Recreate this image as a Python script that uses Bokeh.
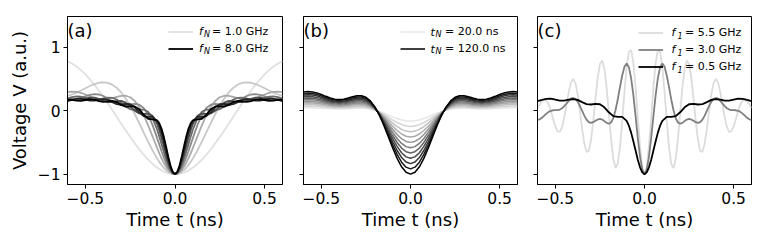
from bokeh.plotting import figure
from bokeh.layouts import row
from bokeh.models import Range1d, FixedTicker, Legend, LegendItem, Label, CustomLabelingPolicy
from bokeh.embed import file_html
from bokeh.resources import INLINE

# ---------------- data (half curves, t >= 0; the reference is symmetric in t) -------------
# panel (a): f_N = 1 ... 8 GHz
t_a = [0, 0.0125, 0.025, 0.0375, 0.05, 0.0625, 0.075, 0.0875, 0.1, 0.125, 0.15, 0.175, 0.2,
       0.225, 0.25, 0.275, 0.3, 0.325, 0.35, 0.375, 0.4, 0.425, 0.45, 0.475, 0.5, 0.525, 0.55,
       0.575, 0.6]
fN_labels = [1.0, 2.0, 3.0, 4.0, 5.0, 6.0, 7.0, 8.0]
v_fN1 = [-1, -0.998, -0.993, -0.985, -0.973, -0.959, -0.941, -0.919, -0.896, -0.839, -0.771, -0.693, -0.607, -0.513, -0.414, -0.310, -0.203, -0.095, 0.013, 0.120, 0.223, 0.321, 0.413, 0.498, 0.575, 0.642, 0.699, 0.746, 0.782]
v_fN2 = [-1, -0.996, -0.983, -0.963, -0.934, -0.899, -0.856, -0.806, -0.751, -0.626, -0.487, -0.340, -0.192, -0.050, 0.081, 0.195, 0.290, 0.362, 0.413, 0.441, 0.450, 0.443, 0.422, 0.392, 0.357, 0.321, 0.287, 0.258, 0.236]
v_fN3 = [-1, -0.992, -0.970, -0.934, -0.884, -0.823, -0.751, -0.672, -0.586, -0.406, -0.228, -0.067, 0.063, 0.157, 0.214, 0.238, 0.237, 0.221, 0.201, 0.184, 0.178, 0.184, 0.202, 0.229, 0.258, 0.283, 0.299, 0.304, 0.296]
v_fN4 = [-1, -0.988, -0.954, -0.899, -0.825, -0.737, -0.638, -0.533, -0.427, -0.226, -0.064, 0.044, 0.098, 0.110, 0.100, 0.088, 0.090, 0.111, 0.149, 0.194, 0.234, 0.258, 0.264, 0.252, 0.230, 0.207, 0.191, 0.187, 0.194]
v_fN5 = [-1, -0.984, -0.935, -0.859, -0.761, -0.647, -0.527, -0.407, -0.295, -0.116, -0.014, 0.020, 0.017, 0.011, 0.027, 0.070, 0.127, 0.178, 0.206, 0.207, 0.192, 0.175, 0.171, 0.182, 0.203, 0.222, 0.227, 0.216, 0.194]
v_fN6 = [-1, -0.978, -0.915, -0.816, -0.694, -0.560, -0.427, -0.305, -0.204, -0.080, -0.044, -0.049, -0.041, 0.003, 0.070, 0.129, 0.157, 0.153, 0.139, 0.138, 0.159, 0.188, 0.209, 0.208, 0.191, 0.173, 0.168, 0.177, 0.189]
v_fN7 = [-1, -0.972, -0.892, -0.771, -0.627, -0.479, -0.344, -0.235, -0.158, -0.096, -0.097, -0.083, -0.023, 0.055, 0.104, 0.111, 0.100, 0.106, 0.137, 0.172, 0.186, 0.176, 0.161, 0.162, 0.178, 0.192, 0.189, 0.171, 0.155]
v_fN8 = [-1, -0.965, -0.867, -0.725, -0.563, -0.409, -0.283, -0.197, -0.150, -0.135, -0.125, -0.062, 0.024, 0.070, 0.069, 0.066, 0.094, 0.138, 0.158, 0.150, 0.141, 0.153, 0.176, 0.184, 0.171, 0.157, 0.160, 0.172, 0.172]

# panel (b): t_N = 20 ... 120 ns
t_b = [0, 0.025, 0.05, 0.075, 0.1, 0.125, 0.15, 0.175, 0.2, 0.225, 0.25, 0.275, 0.3, 0.325,
       0.35, 0.375, 0.4, 0.425, 0.45, 0.475, 0.5, 0.525, 0.55, 0.575, 0.6]
tN_labels = [20.0, 30.0, 40.0, 50.0, 60.0, 70.0, 80.0, 90.0, 100.0, 110.0, 120.0]
v_tN20 = [-0.163, -0.158, -0.144, -0.122, -0.096, -0.066, -0.037, -0.011, 0.010, 0.026, 0.035, 0.039, 0.039, 0.036, 0.033, 0.030, 0.029, 0.030, 0.033, 0.037, 0.042, 0.046, 0.049, 0.050, 0.048]
v_tN30 = [-0.247, -0.240, -0.218, -0.185, -0.145, -0.100, -0.056, -0.017, 0.016, 0.039, 0.053, 0.059, 0.059, 0.055, 0.050, 0.045, 0.044, 0.045, 0.050, 0.057, 0.064, 0.070, 0.074, 0.075, 0.073]
v_tN40 = [-0.330, -0.320, -0.292, -0.248, -0.193, -0.134, -0.075, -0.022, 0.021, 0.052, 0.071, 0.079, 0.078, 0.073, 0.066, 0.061, 0.059, 0.061, 0.067, 0.076, 0.085, 0.093, 0.099, 0.100, 0.098]
v_tN50 = [-0.414, -0.402, -0.366, -0.311, -0.243, -0.168, -0.094, -0.028, 0.026, 0.065, 0.089, 0.099, 0.098, 0.091, 0.083, 0.076, 0.074, 0.076, 0.084, 0.095, 0.107, 0.117, 0.124, 0.126, 0.123]
v_tN60 = [-0.498, -0.483, -0.440, -0.374, -0.292, -0.202, -0.114, -0.033, 0.031, 0.078, 0.107, 0.119, 0.118, 0.110, 0.100, 0.092, 0.089, 0.092, 0.101, 0.114, 0.128, 0.141, 0.149, 0.151, 0.147]
v_tN70 = [-0.582, -0.565, -0.514, -0.437, -0.341, -0.236, -0.133, -0.039, 0.037, 0.091, 0.125, 0.139, 0.138, 0.129, 0.117, 0.107, 0.104, 0.107, 0.118, 0.133, 0.150, 0.165, 0.174, 0.177, 0.172]
v_tN80 = [-0.665, -0.645, -0.588, -0.499, -0.390, -0.270, -0.152, -0.045, 0.042, 0.104, 0.142, 0.158, 0.158, 0.147, 0.134, 0.122, 0.118, 0.122, 0.134, 0.152, 0.172, 0.188, 0.199, 0.202, 0.197]
v_tN90 = [-0.749, -0.727, -0.662, -0.562, -0.439, -0.304, -0.171, -0.050, 0.047, 0.118, 0.160, 0.178, 0.178, 0.166, 0.151, 0.138, 0.133, 0.138, 0.151, 0.172, 0.193, 0.212, 0.224, 0.228, 0.222]
v_tN100 = [-0.833, -0.808, -0.736, -0.626, -0.488, -0.338, -0.190, -0.056, 0.052, 0.131, 0.178, 0.198, 0.197, 0.184, 0.167, 0.153, 0.148, 0.153, 0.168, 0.191, 0.215, 0.236, 0.249, 0.253, 0.247]
v_tN110 = [-0.916, -0.889, -0.810, -0.688, -0.537, -0.372, -0.209, -0.061, 0.058, 0.144, 0.196, 0.218, 0.217, 0.202, 0.184, 0.169, 0.163, 0.169, 0.185, 0.210, 0.236, 0.259, 0.274, 0.278, 0.271]
v_tN120 = [-1, -0.970, -0.884, -0.751, -0.586, -0.406, -0.228, -0.067, 0.063, 0.157, 0.214, 0.238, 0.237, 0.221, 0.201, 0.184, 0.178, 0.184, 0.202, 0.229, 0.258, 0.283, 0.299, 0.304, 0.296]

# panel (c): f_1 = 5.5, 3.0, 0.5 GHz
t_c = [0, 0.0125, 0.025, 0.0375, 0.05, 0.0625, 0.075, 0.0875, 0.1, 0.1125, 0.125, 0.1375, 0.15,
       0.1625, 0.175, 0.1875, 0.2, 0.2125, 0.225, 0.2375, 0.25, 0.2625, 0.275, 0.2875, 0.3,
       0.3125, 0.325, 0.3375, 0.35, 0.3625, 0.375, 0.3875, 0.4, 0.4125, 0.425, 0.4375, 0.45,
       0.4625, 0.475, 0.4875, 0.5, 0.5125, 0.525, 0.5375, 0.55, 0.5625, 0.575, 0.5875, 0.6]
f1_labels = [5.5, 3.0, 0.5]
v_f1_55 = [-1, -0.882, -0.558, -0.105, 0.371, 0.754, 0.958, 0.935, 0.694, 0.297, -0.161, -0.572, -0.837, -0.904, -0.758, -0.442, -0.036, 0.365, 0.664, 0.796, 0.740, 0.517, 0.188, -0.166, -0.461, -0.632, -0.648, -0.516, -0.277, 0.006, 0.265, 0.442, 0.503, 0.445, 0.294, 0.094, -0.105, -0.256, -0.332, -0.324, -0.247, -0.128, -0.001, 0.103, 0.165, 0.179, 0.153, 0.102, 0.045]
v_f1_30 = [-1, -0.928, -0.726, -0.428, -0.084, 0.248, 0.517, 0.689, 0.746, 0.694, 0.558, 0.374, 0.180, 0.009, -0.115, -0.184, -0.204, -0.190, -0.162, -0.138, -0.128, -0.137, -0.158, -0.180, -0.190, -0.177, -0.138, -0.075, 0.002, 0.080, 0.146, 0.189, 0.203, 0.191, 0.158, 0.115, 0.073, 0.040, 0.020, 0.011, 0.010, 0.009, 0.001, -0.016, -0.044, -0.077, -0.110, -0.134, -0.143]
v_f1_05 = [-1, -0.972, -0.892, -0.771, -0.627, -0.479, -0.344, -0.235, -0.158, -0.096, -0.097, -0.083, -0.023, 0.055, 0.104, 0.111, 0.100, 0.106, 0.137, 0.172, 0.186, 0.176, 0.161, 0.162, 0.178, 0.192, 0.189, 0.171, 0.155]

x_ticks = [-0.5, 0.0, 0.5]
x_tick_text = ["\u22120.5", "0.0", "0.5"]
y_ticks = [-1, 0, 1]
y_tick_text = ["\u22121", "0", "1"]

# ---------------- styling ----------------
FONT = "DejaVu Sans"
LEG_FS = "11px"
SUB_FS = "8px"
greys_a = ["#e0e0e0", "#c8c8c8", "#aaaaaa", "#8c8c8c", "#6c6c6c", "#4c4c4c", "#262626", "#000000"]
greys_b = ["#e6e6e6", "#d4d4d4", "#c0c0c0", "#aaaaaa", "#939393", "#7b7b7b", "#636363", "#4b4b4b", "#333333", "#1a1a1a", "#000000"]
cols_c = ["#dcdcdc", "#7f7f7f", "#000000"]
HIDE_LABELS = "for (const i of indices) { indices.unset(i) }\nreturn indices"


def mirror(ts, vs):
    return [-t for t in ts[:0:-1]] + list(ts), list(vs[:0:-1]) + list(vs)


def make_fig(width, bl, br, ylabels):
    p = figure(width=width, height=248, x_range=Range1d(-0.6, 0.6), y_range=Range1d(-1.163, 1.489),
               output_backend="svg", toolbar_location=None,
               min_border_left=bl, min_border_right=br, min_border_top=16, min_border_bottom=64)
    p.grid.visible = False
    p.outline_line_color = "black"
    p.outline_line_width = 1
    for ax in (p.xaxis[0], p.yaxis[0]):
        ax.axis_line_color = "black"
        ax.major_tick_in = 0
        ax.major_tick_out = 4
        ax.minor_tick_line_color = None
        ax.major_label_text_font = FONT
        ax.major_label_text_font_size = "15.5px"
        ax.major_label_text_color = "black"
        ax.axis_label_text_font = FONT
        ax.axis_label_text_font_size = "18px"
        ax.axis_label_text_font_style = "normal"
        ax.axis_label_text_color = "black"
    p.xaxis.ticker = FixedTicker(ticks=x_ticks)
    p.xaxis.major_label_overrides = {k: v for k, v in zip(x_ticks, x_tick_text)}
    p.xaxis.major_label_standoff = 3
    p.xaxis.axis_label = "Time t (ns)"
    p.xaxis.axis_label_standoff = 2
    p.yaxis.ticker = FixedTicker(ticks=y_ticks)
    if ylabels:
        p.yaxis.major_label_overrides = {k: v for k, v in zip(y_ticks, y_tick_text)}
        p.yaxis.axis_label = "Voltage V (a.u.)"
        p.yaxis.major_label_standoff = 3
        p.yaxis.axis_label_standoff = 5
    else:
        # ticks without labels (as in the reference's panels b and c)
        p.yaxis.major_label_policy = CustomLabelingPolicy(code=HIDE_LABELS)
        p.yaxis.major_label_text_font_size = "1px"
        p.yaxis.major_label_standoff = 0
    return p


def add_legend(p, items, x, ytop, sym_dx, sub_dx, standoff, sym, sub, texts):
    leg = Legend(items=[LegendItem(label=txt, renderers=[r]) for r, txt in zip(items, texts)],
                 location=(x, ytop - 17 * len(items)), glyph_width=25, glyph_height=17,
                 label_height=17, label_standoff=standoff, padding=0, margin=0, spacing=0,
                 background_fill_alpha=0, border_line_alpha=0, label_text_color="black",
                 label_text_font=FONT, label_text_font_size=LEG_FS, label_text_baseline="middle")
    p.add_layout(leg)
    for i in range(len(items)):
        yc = ytop - 8.5 - 17 * i
        p.add_layout(Label(x=x + sym_dx, y=yc, x_units="screen", y_units="screen", text=sym,
                           text_font=FONT, text_font_size=LEG_FS, text_font_style="italic",
                           text_baseline="middle", text_color="black"))
        p.add_layout(Label(x=x + sub_dx, y=yc - 2.5, x_units="screen", y_units="screen", text=sub,
                           text_font=FONT, text_font_size=SUB_FS, text_font_style="italic",
                           text_baseline="middle", text_color="black"))


def panel_label(p, txt):
    p.add_layout(Label(x=0, y=154, x_units="screen", y_units="screen", text=txt,
                       text_font=FONT, text_font_size="18px", text_baseline="middle",
                       text_color="black"))


# ---- panel (a)
pa = make_fig(292, 67, 10, True)
va = [v_fN1, v_fN2, v_fN3, v_fN4, v_fN5, v_fN6, v_fN7, v_fN8]
ra = []
for v, c in zip(va, greys_a):
    xs, ys = mirror(t_a, v)
    ra.append(pa.line(xs, ys, line_color=c, line_width=1.8))
add_legend(pa, [ra[0], ra[-1]], 101, 161.5, 30.5, 35.5, 19, "f", "N",
           ["= %.1f GHz" % fN_labels[0], "= %.1f GHz" % fN_labels[-1]])
panel_label(pa, "(a)")

# ---- panel (b)
pb = make_fig(235, 11, 10, False)
vb = [v_tN20, v_tN30, v_tN40, v_tN50, v_tN60, v_tN70, v_tN80, v_tN90, v_tN100, v_tN110, v_tN120]
rb = []
for v, c in zip(vb, greys_b):
    xs, ys = mirror(t_b, v)
    rb.append(pb.line(xs, ys, line_color=c, line_width=1.5))
add_legend(pb, [rb[0], rb[-1]], 97, 160.8, 30, 35, 20, "t", "N",
           ["= %.1f ns" % tN_labels[0], "= %.1f ns" % tN_labels[-1]])
panel_label(pb, "(b)")

# ---- panel (c)
pc = make_fig(233, 10, 9, False)
rc = []
for (tt, v), c in zip([(t_c, v_f1_55), (t_c, v_f1_30), (t_a, v_f1_05)], cols_c):
    xs, ys = mirror(tt, v)
    rc.append(pc.line(xs, ys, line_color=c, line_width=1.8))
add_legend(pc, rc, 101, 160.2, 33, 39, 22, "f", "1", ["= %.1f GHz" % f for f in f1_labels])
panel_label(pc, "(c)")

layout = row(pa, pb, pc, spacing=0)
open("out.html", "w").write(file_html(layout, INLINE))
